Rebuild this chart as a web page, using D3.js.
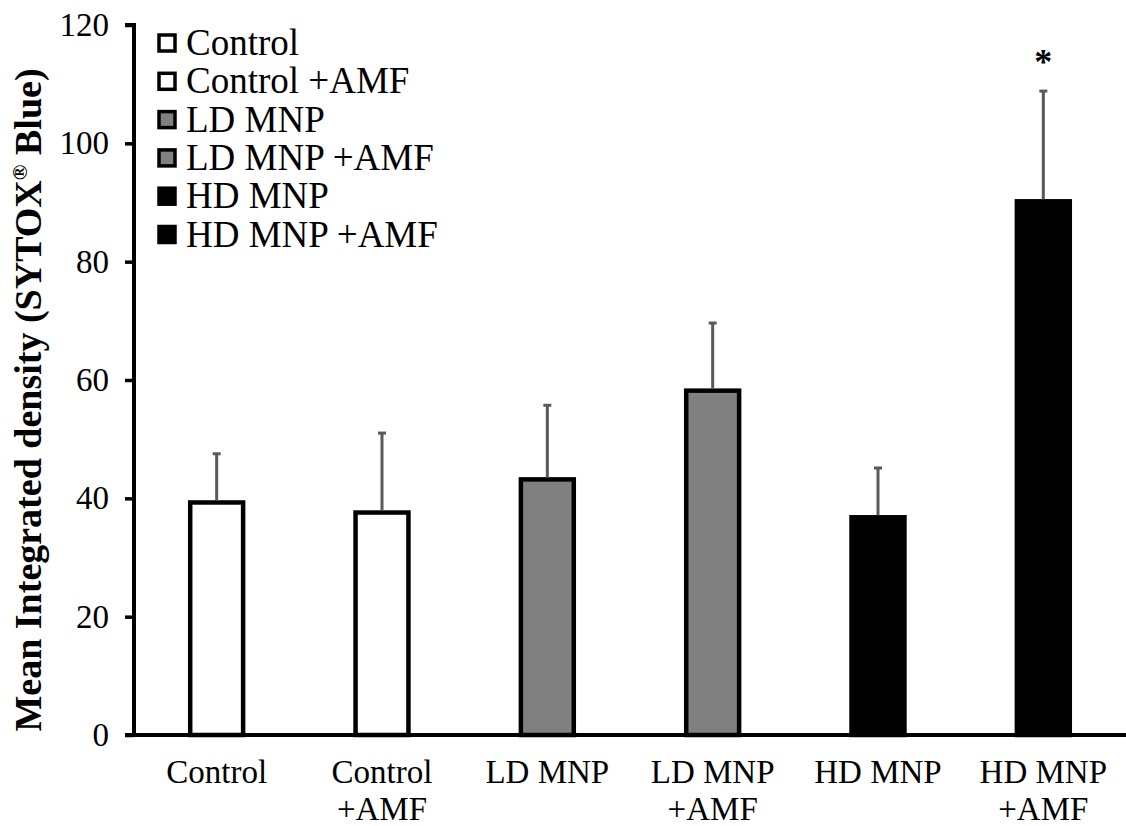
<!DOCTYPE html>
<html>
<head>
<meta charset="utf-8">
<script src="https://cdn.jsdelivr.net/npm/d3@7.9.0/dist/d3.min.js"></script>
<style>
  body { margin: 0; background: #fff; }
  svg { font-family: "Liberation Serif", "Times New Roman", serif; }
</style>
</head>
<body>
<svg id="chart" width="1126" height="826"></svg>
<script>
// group labels (two lines on the axis)
const groups = ['Control', 'Control +AMF', 'LD MNP', 'LD MNP +AMF', 'HD MNP', 'HD MNP +AMF'];
const axisLines = [['Control'], ['Control', '+AMF'], ['LD MNP'], ['LD MNP', '+AMF'], ['HD MNP'], ['HD MNP', '+AMF']];
const means = [39.3, 37.6, 43.2, 58.2, 36.8, 90.2];
const errors = [8.4, 13.6, 12.7, 11.6, 8.5, 18.8];
const fills = ['#ffffff', '#ffffff', '#808080', '#808080', '#000000', '#000000'];
const yTicks = [0, 20, 40, 60, 80, 100, 120];
const significant = [false, false, false, false, false, true];

const svg = d3.select('#chart');
const margin = { top: 25, right: 0, bottom: 91, left: 134 };
const width = 1126, height = 826;

const x = d3.scaleBand()
  .domain(groups)
  .range([margin.left, width - margin.right])
  .paddingInner(0.68)
  .paddingOuter(0.34);

const y = d3.scaleLinear()
  .domain([0, 120])
  .range([height - margin.bottom, margin.top]);

// bars
svg.selectAll('rect.bar')
  .data(groups)
  .join('rect')
  .attr('class', 'bar')
  .attr('x', d => x(d))
  .attr('width', x.bandwidth())
  .attr('y', (d, i) => y(means[i]))
  .attr('height', (d, i) => y(0) - y(means[i]))
  .attr('fill', (d, i) => fills[i])
  .attr('stroke', '#000')
  .attr('stroke-width', 4.5);

// error bars (upper only)
const eb = svg.append('g');
groups.forEach((g, i) => {
  const cx = x(g) + x.bandwidth() / 2;
  eb.append('line')
    .attr('x1', cx).attr('x2', cx)
    .attr('y1', y(means[i]) - 2).attr('y2', y(means[i] + errors[i]))
    .attr('stroke', '#595959').attr('stroke-width', 3);
  eb.append('line')
    .attr('x1', cx - 4).attr('x2', cx + 4)
    .attr('y1', y(means[i] + errors[i]) + 1).attr('y2', y(means[i] + errors[i]) + 1)
    .attr('stroke', '#595959').attr('stroke-width', 3);
  if (significant[i]) {
    svg.append('text')
      .attr('x', cx).attr('y', y(means[i] + errors[i]) - 16)
      .attr('text-anchor', 'middle')
      .attr('font-size', 36).attr('font-weight', 'bold')
      .text('*');
  }
});

// y axis
const yAxis = svg.append('g')
  .attr('transform', `translate(${margin.left},0)`)
  .call(d3.axisLeft(y).tickValues(yTicks).tickSize(9).tickPadding(16));
yAxis.select('.domain').attr('stroke', '#000').attr('stroke-width', 4)
  .attr('d', `M-9,${y(120)}H0V${y(0)}`);
yAxis.selectAll('.tick line').attr('stroke-width', 3.5);
yAxis.selectAll('.tick text').attr('font-size', 33).attr('fill', '#000')
  .attr('font-family', '"Liberation Serif", serif');

// x axis baseline
svg.append('line')
  .attr('x1', margin.left - 9).attr('x2', width)
  .attr('y1', y(0)).attr('y2', y(0))
  .attr('stroke', '#000').attr('stroke-width', 4);

// x labels
groups.forEach((g, i) => {
  const t = svg.append('text')
    .attr('x', x(g) + x.bandwidth() / 2)
    .attr('y', 783)
    .attr('text-anchor', 'middle')
    .attr('font-size', 33);
  axisLines[i].forEach((ln, j) => {
    t.append('tspan').attr('x', x(g) + x.bandwidth() / 2).attr('dy', j ? 37 : 0).text(ln);
  });
});

// y title
const yt = svg.append('text')
  .attr('transform', `translate(41,${(y(0) + y(120)) / 2 + 20}) rotate(-90)`)
  .attr('text-anchor', 'middle')
  .attr('font-size', 38).attr('font-weight', 'bold');
yt.append('tspan').text('Mean Integrated density (SYTOX');
yt.append('tspan').attr('font-size', 21).attr('dy', -14).text('®');
yt.append('tspan').attr('dy', 14).text(' Blue)');

// legend
const legend = svg.append('g').attr('transform', 'translate(158,34)');
groups.forEach((g, i) => {
  const row = legend.append('g').attr('transform', `translate(0,${i * 38.3})`);
  row.append('rect')
    .attr('x', 1).attr('y', 1).attr('width', 16).attr('height', 16)
    .attr('fill', fills[i]).attr('stroke', '#000').attr('stroke-width', 3.5);
  row.append('text')
    .attr('x', 28).attr('y', 21)
    .attr('font-size', 37)
    .text(g);
});
</script>
</body>
</html>
